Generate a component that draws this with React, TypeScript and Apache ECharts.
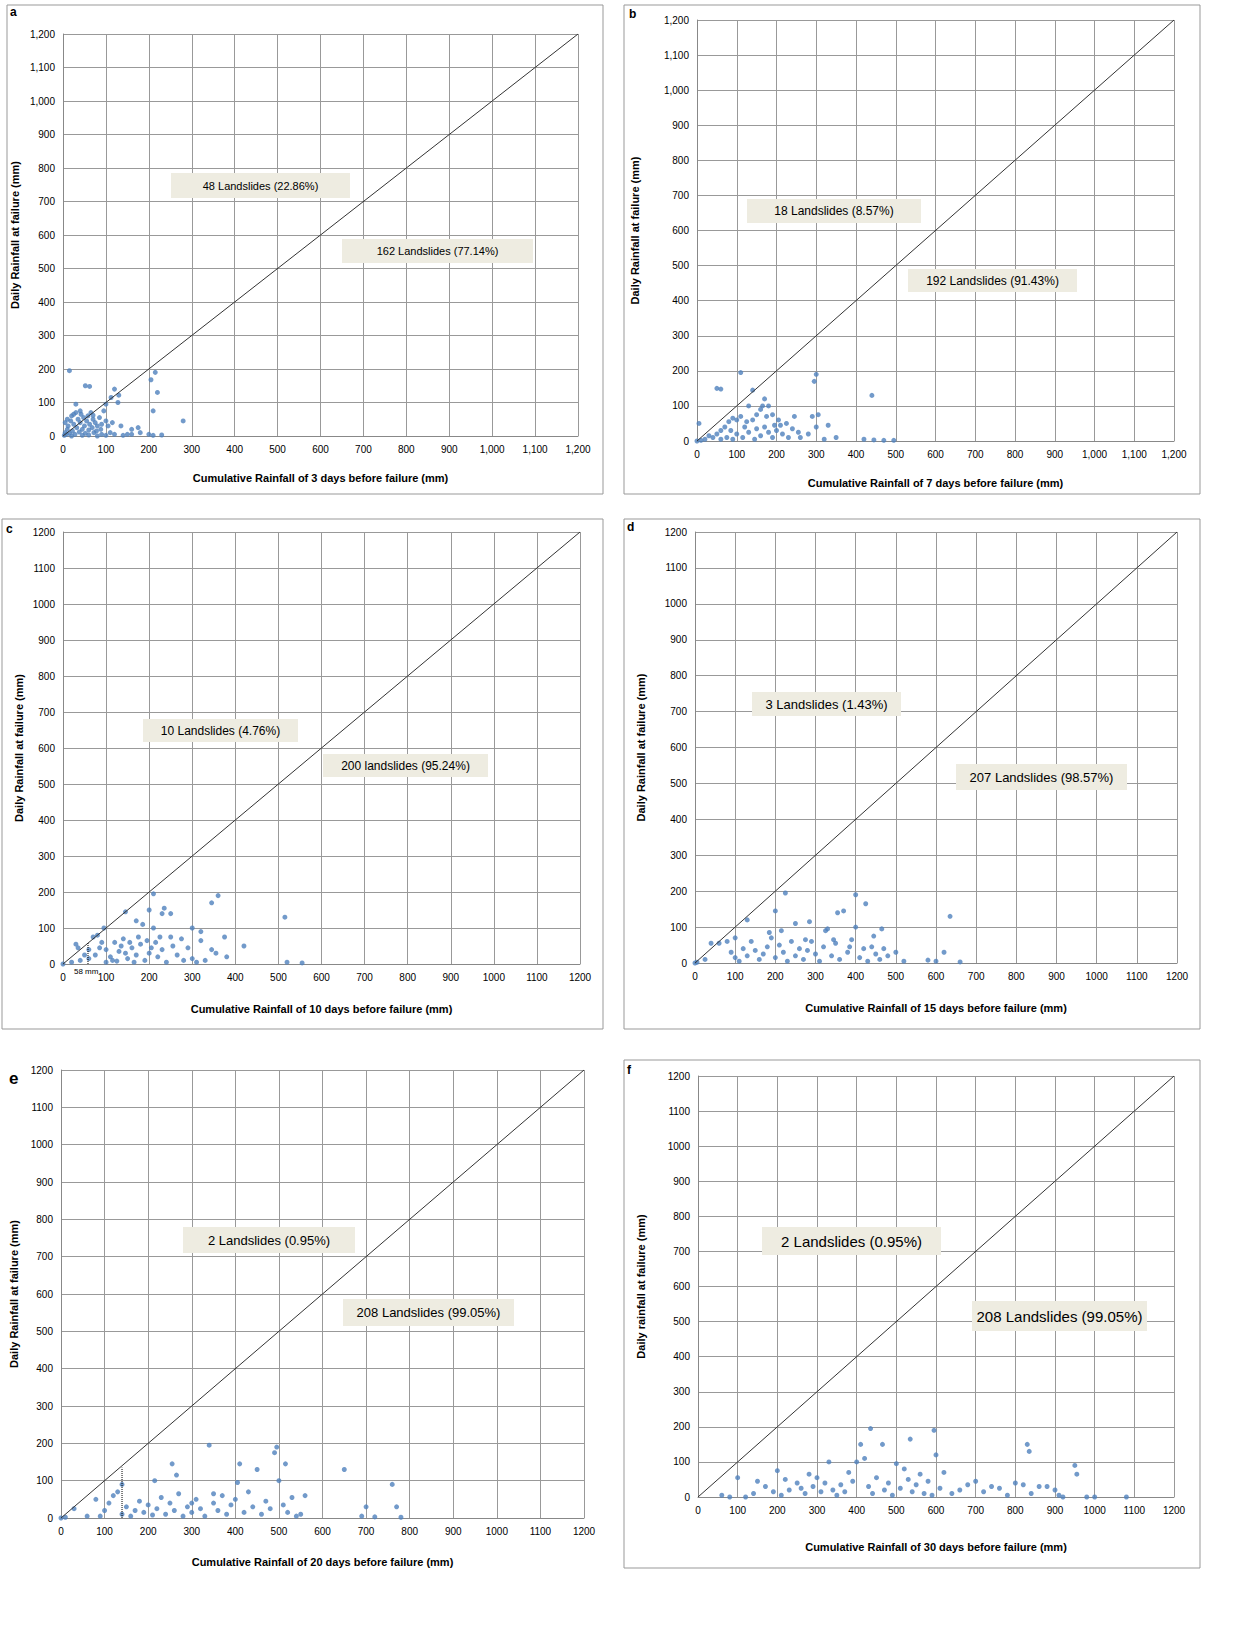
import React, { useRef, useEffect } from 'react'
import * as echarts from 'echarts'

// 坐标轴刻度
const axisMax = 1200
const axisStep = 100

// 各图的点 [累计降雨, 当日降雨]
const pointsA = [[3,2],[5,10],[8,5],[10,20],[12,30],[15,8],[18,45],[20,60],[22,15],[25,35],[28,5],[30,70],[32,25],[35,50],[38,12],[40,40],[42,65],[45,20],[48,55],[50,30],[52,8],[55,45],[58,60],[60,18],[62,35],[65,70],[68,25],[70,50],[72,10],[75,40],[78,15],[80,30],[85,55],[88,20],[90,5],[95,75],[100,45],[105,30],[110,10],[115,40],[120,5],[100,95],[30,95],[40,75],[15,195],[52,150],[62,148],[112,115],[120,140],[130,122],[128,100],[215,190],[205,168],[220,130],[210,75],[280,45],[135,30],[150,5],[160,20],[175,25],[180,10],[200,5],[210,2],[230,3],[10,50],[5,40],[20,0],[45,2],[60,3],[80,0],[100,2],[25,65],[70,62],[90,35],[160,5],[140,2]]
const pointsB = [[110,195],[50,150],[60,148],[140,145],[170,120],[165,100],[180,100],[300,190],[295,170],[305,75],[290,70],[245,70],[190,75],[440,130],[130,100],[160,90],[205,60],[210,45],[300,40],[330,45],[350,10],[420,5],[445,3],[470,2],[495,2],[255,25],[260,10],[280,20],[320,5],[100,60],[90,65],[80,55],[70,40],[60,30],[50,20],[40,10],[20,5],[10,2],[30,15],[120,40],[130,25],[140,60],[150,35],[160,15],[170,40],[180,25],[190,10],[200,30],[215,20],[225,50],[230,10],[240,35],[110,70],[100,20],[90,5],[115,10],[60,5],[5,50],[0,0],[75,10],[85,30],[125,55],[145,5],[195,45],[175,70],[150,75]]
const pointsC = [[210,195],[360,190],[345,170],[235,155],[200,150],[145,145],[230,140],[250,140],[170,120],[185,110],[210,100],[300,100],[320,90],[375,75],[420,50],[515,130],[520,5],[555,3],[250,75],[275,70],[320,65],[355,30],[380,20],[95,100],[80,80],[70,75],[90,60],[30,55],[35,45],[60,40],[50,25],[40,10],[20,5],[0,0],[100,40],[110,20],[120,60],[130,35],[140,70],[150,15],[160,45],[170,25],[180,55],[190,10],[200,30],[215,60],[220,20],[230,40],[240,5],[255,50],[265,25],[280,10],[290,45],[300,15],[310,5],[330,10],[345,40],[100,5],[125,8],[165,5],[175,75],[195,65],[155,60],[145,30],[135,50],[205,45],[225,75],[60,15],[75,25],[85,45],[115,10]]
const pointsD = [[225,195],[400,190],[425,165],[200,145],[370,145],[355,140],[130,120],[250,110],[285,115],[330,95],[325,90],[445,75],[465,95],[400,100],[635,130],[620,30],[600,5],[580,8],[660,3],[500,30],[470,40],[440,45],[100,70],[80,60],[60,55],[40,55],[25,10],[5,2],[0,0],[90,30],[100,15],[110,5],[120,40],[130,20],[140,60],[150,35],[160,10],[170,25],[180,45],[190,70],[200,15],[210,50],[220,30],[230,5],[240,60],[250,20],[260,40],[270,10],[280,35],[290,60],[300,25],[310,5],[320,45],[340,20],[350,55],[360,10],[380,30],[390,65],[410,15],[420,40],[430,5],[450,25],[460,10],[480,20],[520,5],[385,45],[345,65],[275,65],[215,90],[185,85]]
const pointsE = [[340,195],[495,190],[490,175],[515,145],[410,145],[255,145],[265,115],[215,100],[450,130],[650,130],[760,90],[405,95],[500,100],[560,60],[700,30],[770,30],[690,5],[720,3],[780,2],[30,25],[80,50],[100,20],[110,40],[120,60],[130,70],[140,10],[150,30],[160,5],[170,20],[180,45],[190,15],[200,35],[210,8],[220,25],[230,55],[240,10],[250,40],[260,20],[270,65],[280,5],[290,30],[300,15],[310,50],[320,25],[330,5],[350,40],[360,20],[370,60],[380,10],[390,35],[400,50],[420,15],[430,70],[440,30],[460,10],[470,45],[480,25],[510,35],[520,15],[530,55],[540,5],[10,2],[0,0],[60,5],[90,5],[550,10],[140,90],[350,65],[300,40]]
const pointsF = [[435,195],[595,190],[410,150],[465,150],[535,165],[600,120],[830,150],[835,130],[950,90],[955,65],[1080,0],[100,55],[150,45],[200,75],[220,50],[250,40],[280,65],[300,55],[330,100],[380,70],[400,100],[420,110],[500,95],[520,80],[560,65],[620,70],[680,35],[700,45],[740,30],[800,40],[820,35],[860,30],[900,20],[910,5],[980,0],[60,5],[80,0],[120,0],[140,10],[170,30],[190,15],[210,5],[230,20],[260,25],[270,10],[290,30],[310,15],[320,40],[340,20],[350,5],[360,35],[370,15],[390,45],[430,30],[440,10],[450,55],[470,20],[480,40],[490,5],[510,25],[530,50],[540,15],[550,35],[570,10],[580,45],[590,5],[610,25],[640,10],[660,20],[720,15],[760,25],[780,5],[840,10],[880,30],[920,0],[1000,0]]

// 说明文字
const labelsA = ['48 Landslides (22.86%)', '162 Landslides (77.14%)']
const labelsB = ['18 Landslides (8.57%)', '192 Landslides (91.43%)']
const labelsC = ['10 Landslides (4.76%)', '200 landslides (95.24%)']
const labelsD = ['3 Landslides (1.43%)', '207 Landslides (98.57%)']
const labelsE = ['2 Landslides (0.95%)', '208 Landslides (99.05%)']
const labelsF = ['2 Landslides (0.95%)', '208 Landslides (99.05%)']

const panels = [
  { letter: 'a', lx: 10, ly: 6, box: [7, 5, 596, 489], grid: [63, 34, 515, 402], comma: true, xName: 'Cumulative Rainfall of 3 days before failure (mm)', yName: 'Daily Rainfall at failure (mm)', xGap: 36, yGap: 43, data: pointsA, labels: labelsA, boxes: [[171, 173, 179, 25], [342, 239, 191, 24]], fs: 11 },
  { letter: 'b', lx: 629, ly: 8, box: [624, 5, 576, 489], grid: [697, 20, 477, 421], comma: true, xName: 'Cumulative Rainfall of 7 days before failure (mm)', yName: 'Daily Rainfall at failure (mm)', xGap: 36, yGap: 57, data: pointsB, labels: labelsB, boxes: [[747, 199, 174, 24], [908, 269, 169, 23]], fs: 12 },
  { letter: 'c', lx: 6, ly: 523, box: [2, 519, 601, 510], grid: [63, 532, 517, 432], comma: false, xName: 'Cumulative Rainfall of 10 days before failure (mm)', yName: 'Daily Rainfall at failure (mm)', xGap: 39, yGap: 39, data: pointsC, labels: labelsC, boxes: [[143, 719, 155, 23], [323, 754, 165, 23]], fs: 12 },
  { letter: 'd', lx: 627, ly: 521, box: [624, 519, 576, 510], grid: [695, 532, 482, 431], comma: false, xName: 'Cumulative Rainfall of 15 days before failure (mm)', yName: 'Daily Rainfall at failure (mm)', xGap: 39, yGap: 49, data: pointsD, labels: labelsD, boxes: [[752, 692, 149, 24], [956, 764, 171, 26]], fs: 13 },
  { letter: 'e', lx: 9, ly: 1070, box: null, grid: [61, 1070, 523, 448], comma: false, xName: 'Cumulative Rainfall of 20 days before failure (mm)', yName: 'Daily Rainfall at failure (mm)', xGap: 38, yGap: 42, data: pointsE, labels: labelsE, boxes: [[183, 1227, 172, 26], [343, 1299, 171, 27]], fs: 13 },
  { letter: 'f', lx: 627, ly: 1064, box: [624, 1060, 576, 508], grid: [698, 1076, 476, 421], comma: false, xName: 'Cumulative Rainfall of 30 days before failure (mm)', yName: 'Daily rainfall at failure (mm)', xGap: 44, yGap: 52, data: pointsF, labels: labelsF, boxes: [[762, 1227, 179, 28], [972, 1301, 175, 30]], fs: 15 },
]

function App() {
  const chartRef = useRef(null)

  useEffect(() => {
    const chart = echarts.init(chartRef.current, null, { renderer: 'svg' })
    const font = 'Liberation Sans, Arial, sans-serif'
    const fmt = (comma) => (v) => (comma ? v.toLocaleString('en-US') : String(v))

    const grid = []
    const xAxis = []
    const yAxis = []
    const series = []
    const graphic = []

    panels.forEach((p, i) => {
      grid.push({ left: p.grid[0], top: p.grid[1], width: p.grid[2], height: p.grid[3] })
      const axisCommon = {
        min: 0,
        max: axisMax,
        interval: axisStep,
        gridIndex: i,
        nameLocation: 'middle',
        nameTextStyle: { fontWeight: 'bold', fontSize: 11, color: '#000', fontFamily: font },
        axisLine: { show: true, lineStyle: { color: '#888' } },
        axisTick: { show: false },
        splitLine: { show: true, lineStyle: { color: '#999', width: 1 } },
        axisLabel: { fontSize: 10, color: '#000', fontFamily: font, formatter: fmt(p.comma) },
      }
      xAxis.push({ ...axisCommon, type: 'value', name: p.xName, nameGap: p.xGap })
      yAxis.push({ ...axisCommon, type: 'value', name: p.yName, nameGap: p.yGap })
      series.push({
        type: 'line',
        xAxisIndex: i,
        yAxisIndex: i,
        data: [[0, 0], [axisMax, axisMax]],
        symbol: 'none',
        lineStyle: { color: '#333', width: 1 },
        silent: true,
      })
      series.push({
        type: 'scatter',
        xAxisIndex: i,
        yAxisIndex: i,
        data: p.data,
        symbolSize: 5,
        itemStyle: { color: '#4f81bd' },
      })
      if (p.box) {
        graphic.push({
          type: 'rect',
          shape: { x: p.box[0], y: p.box[1], width: p.box[2], height: p.box[3] },
          style: { fill: 'none', stroke: '#999', lineWidth: 1 },
        })
      }
      graphic.push({
        type: 'text',
        x: p.lx,
        y: p.ly,
        style: { text: p.letter, font: `bold ${p.letter === 'e' ? 17 : 12}px ${font}`, fill: '#000' },
      })
      p.boxes.forEach((b, k) => {
        graphic.push({
          type: 'rect',
          shape: { x: b[0], y: b[1], width: b[2], height: b[3] },
          style: { fill: '#eeece1' },
          z: 10,
        })
        graphic.push({
          type: 'text',
          x: b[0] + b[2] / 2,
          y: b[1] + b[3] / 2,
          style: { text: p.labels[k], font: `${p.fs}px ${font}`, fill: '#000', align: 'center', verticalAlign: 'middle' },
          z: 11,
        })
      })
    })

    // c 图 58 mm 标注, e 图虚线
    series.push({
      type: 'line', xAxisIndex: 2, yAxisIndex: 2, data: [[58, 0], [58, 58]], symbol: 'none',
      lineStyle: { color: '#000', width: 1, type: 'dotted' },
    })
    graphic.push({ type: 'text', x: 74, y: 967, style: { text: '58 mm', font: `8px ${font}`, fill: '#000' } })
    series.push({
      type: 'line', xAxisIndex: 4, yAxisIndex: 4, data: [[140, 0], [140, 135]], symbol: 'none',
      lineStyle: { color: '#000', width: 1, type: 'dotted' },
    })

    chart.setOption({ animation: false, grid, xAxis, yAxis, series, graphic })

    return () => {
      chart.dispose()
    }
  }, [])

  return <div ref={chartRef} style={{ position: 'absolute', left: 0, top: 0, width: 1245, height: 1627, background: '#fff' }}></div>
}

export default App
